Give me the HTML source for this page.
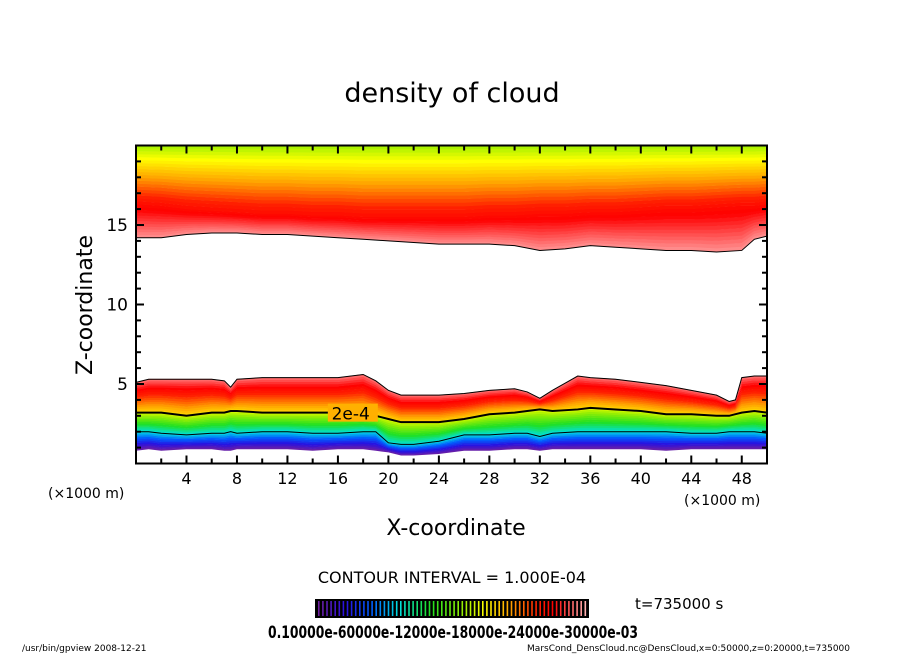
<!DOCTYPE html>
<html><head><meta charset="utf-8"><style>
html,body{margin:0;padding:0;background:#fff;}
svg{display:block;font-family:"DejaVu Sans","Liberation Sans",sans-serif;}
</style></head><body>
<svg id="chart" width="904" height="654" viewBox="0 0 904 654" xmlns="http://www.w3.org/2000/svg">
<rect width="904" height="654" fill="#fff"/>
<text x="452" y="102" font-size="27" text-anchor="middle">density of cloud</text>
<g id="plot"></g>
<g id="axes"></g>
<text x="456" y="535" font-size="22" text-anchor="middle">X-coordinate</text>
<text transform="translate(92,305) rotate(-90)" font-size="22" text-anchor="middle">Z-coordinate</text>
<text x="48" y="498" font-size="14">(×1000 m)</text>
<text x="684" y="505" font-size="14">(×1000 m)</text>
<text x="452" y="583" font-size="16" text-anchor="middle">CONTOUR INTERVAL = 1.000E-04</text>
<g id="cbar"></g>
<text x="268" y="638" font-size="17" font-weight="bold" textLength="370" lengthAdjust="spacingAndGlyphs">0.10000e-60000e-12000e-18000e-24000e-30000e-03</text>
<text x="635" y="609" font-size="15">t=735000 s</text>
<text x="22" y="651" font-size="9">/usr/bin/gpview   2008-12-21</text>
<text x="850" y="651" font-size="9" text-anchor="end">MarsCond_DensCloud.nc@DensCloud,x=0:50000,z=0:20000,t=735000</text>
</svg>
<script>
// data (x in 1000 m, z in 1000 m)
const xsU = [0,2,4,6,8,10,12,14,16,18,20,22,24,26,28,30,32,34,36,38,40,42,44,46,48,49,50];
const upperBottom = [14.2,14.2,14.4,14.5,14.5,14.4,14.4,14.3,14.2,14.1,14.0,13.9,13.8,13.8,13.8,13.7,13.4,13.5,13.7,13.6,13.5,13.4,13.4,13.3,13.4,14.1,14.3];
const upperPeak = [16.3,16.2,16.0,15.9,15.8,15.7,15.7,15.6,15.6,15.5,15.5,15.5,15.5,15.5,15.6,15.6,15.7,15.7,15.8,15.8,15.9,16.0,16.0,16.1,16.2,16.2,16.3];
const xsL = [0,1,2,4,6,7,7.5,8,10,12,14,16,18,19,20,21,22,24,26,28,30,31,32,33,35,36,38,40,42,44,46,47,47.5,48,49,50];
const lowerTop = [5.1,5.3,5.3,5.3,5.3,5.2,4.8,5.3,5.4,5.4,5.4,5.4,5.6,5.2,4.6,4.3,4.3,4.3,4.4,4.6,4.7,4.5,4.1,4.6,5.5,5.4,5.3,5.1,4.9,4.6,4.3,3.9,4.0,5.4,5.5,5.5];
const contour2e4 = [3.2,3.2,3.2,3.0,3.2,3.2,3.3,3.3,3.2,3.2,3.2,3.2,3.2,3.0,2.8,2.6,2.6,2.6,2.8,3.1,3.2,3.3,3.4,3.3,3.4,3.5,3.4,3.3,3.1,3.1,3.0,3.0,3.1,3.2,3.3,3.2];
const contour1e4 = [2.0,2.0,1.9,1.8,1.9,1.9,2.0,1.9,2.0,2.0,1.9,1.9,2.0,2.0,1.3,1.2,1.2,1.4,1.8,1.8,1.9,1.9,1.7,1.9,2.0,2.0,2.0,2.0,2.0,1.9,1.9,2.0,2.0,2.0,2.0,1.9];
const lowerBottom = [0.8,0.9,0.8,0.9,0.9,0.8,0.8,0.9,0.9,0.9,0.8,0.9,0.9,0.8,0.7,0.5,0.5,0.6,0.8,0.8,0.9,0.9,0.8,0.9,0.9,0.9,0.9,0.9,0.8,0.9,0.9,0.9,0.9,0.9,0.9,0.9];
const xTicks = [4,8,12,16,20,24,28,32,36,40,44,48];
const yTicks = [5,10,15];

const NS='http://www.w3.org/2000/svg';
const X0=136,X1=767,Y0=463.5,Y1=145.5;
const sx=v=>X0+(v/50)*(X1-X0);
const sy=v=>Y0-(v/20)*(Y0-Y1);
const stops=[[0,[112,32,160]],[0.1,[40,16,224]],[0.2,[0,96,255]],[0.3,[0,224,224]],[0.42,[32,224,32]],[0.55,[160,240,0]],[0.62,[255,255,0]],[0.72,[255,160,0]],[0.82,[255,32,0]],[0.88,[255,0,0]],[1,[255,176,176]]];
function cmap(t){for(let i=1;i<stops.length;i++){if(t<=stops[i][0]){const a=stops[i-1],b=stops[i],f=(t-a[0])/(b[0]-a[0]);return 'rgb('+a[1].map((c,k)=>Math.round(c+(b[1][k]-c)*f)).join(',')+')';}}return 'rgb(255,176,176)';}
const plot=document.getElementById('plot');
function band(xs,lo,hi,fa,fb,ta,tb,n){
  for(let k=0;k<n;k++){
    const f0=fa+(fb-fa)*k/n,f1=fa+(fb-fa)*(k+1)/n;
    const pts=[];
    for(let i=0;i<xs.length;i++)pts.push(sx(xs[i])+','+sy(lo[i]+(hi[i]-lo[i])*f0));
    for(let i=xs.length-1;i>=0;i--)pts.push(sx(xs[i])+','+sy(lo[i]+(hi[i]-lo[i])*f1+0.02));
    const p=document.createElementNS(NS,'polygon');
    p.setAttribute('points',pts.join(' '));
    p.setAttribute('fill',cmap(ta+(tb-ta)*(k+0.5)/n));
    
    
    plot.appendChild(p);
  }
}
const top20=xsU.map(()=>20);
band(xsU,upperBottom,upperPeak,0,1,0.98,0.86,12);
band(xsU,upperPeak,top20,0,1,0.86,0.55,20);
band(xsL,lowerBottom,contour1e4,0,1,0.0,0.3,10);
band(xsL,contour1e4,contour2e4,0,1,0.3,0.6,12);
band(xsL,contour2e4,lowerTop,0,1,0.66,0.96,16);
function line(xs,zs,w,name){
  const p=document.createElementNS(NS,'polyline');
  p.setAttribute('points',xs.map((x,i)=>sx(x)+','+sy(zs[i])).join(' '));
  p.setAttribute('fill','none');p.setAttribute('stroke','#000');p.setAttribute('stroke-width',w);
  
  
  plot.appendChild(p);
}
line(xsU,upperBottom,1,'upper-cloud-edge');
line(xsL,lowerTop,1,'lower-cloud-top-edge');
line(xsL,contour1e4,1,'contour-1e-4');
line(xsL,contour2e4,2,'contour-2e-4');
const lb=document.createElementNS(NS,'rect');
lb.setAttribute('x',sx(15.2));lb.setAttribute('y',sy(3.2)-9);lb.setAttribute('width',50);lb.setAttribute('height',18);lb.setAttribute('fill','#ffb000');


plot.appendChild(lb);
const lt=document.createElementNS(NS,'text');
lt.setAttribute('x',sx(15.5));lt.setAttribute('y',sy(3.2)+7);lt.setAttribute('font-size','17');lt.textContent='2e-4';


plot.appendChild(lt);
// axes
const ax=document.getElementById('axes');
function el(tag,attrs){const e=document.createElementNS(NS,tag);for(const k in attrs)e.setAttribute(k,attrs[k]);ax.appendChild(e);return e;}
const fr=el('rect',{x:X0,y:Y1,width:X1-X0,height:Y0-Y1,fill:'none',stroke:'#000','stroke-width':2});


for(let v=2;v<50;v+=2){const L=(v%4===0)?8:5;
  const a=el('line',{x1:sx(v),x2:sx(v),y1:Y0,y2:Y0-L,stroke:'#000','stroke-width':2});
  
  
  const b=el('line',{x1:sx(v),x2:sx(v),y1:Y1,y2:Y1+L,stroke:'#000','stroke-width':2});
  
  }
for(let v=1;v<20;v++){const L=(v%5===0)?8:5;
  const a=el('line',{x1:X0,x2:X0+L,y1:sy(v),y2:sy(v),stroke:'#000','stroke-width':2});
  
  
  const b=el('line',{x1:X1,x2:X1-L,y1:sy(v),y2:sy(v),stroke:'#000','stroke-width':2});
  
  }
xTicks.forEach(v=>{const t=el('text',{x:sx(v),y:484,'font-size':16,'text-anchor':'middle'});t.textContent=v;
  
  });
yTicks.forEach(v=>{const t=el('text',{x:X0-8,y:sy(v)+6,'font-size':17,'text-anchor':'end'});t.textContent=v;
  
  });
// colorbar
const cb=document.getElementById('cbar');
const cbg=document.createElementNS(NS,'rect');
cbg.setAttribute('x',315);cbg.setAttribute('y',599);cbg.setAttribute('width',274);cbg.setAttribute('height',19);cbg.setAttribute('fill','#000');


cb.appendChild(cbg);
for(let i=0;i<66;i++){const x=318+i*4.1;const r=document.createElementNS(NS,'rect');
  r.setAttribute('x',x);r.setAttribute('y',601);r.setAttribute('width',1.6);r.setAttribute('height',15);r.setAttribute('fill',cmap(i/65));
  
  
  cb.appendChild(r);}
</script>
</body></html>
